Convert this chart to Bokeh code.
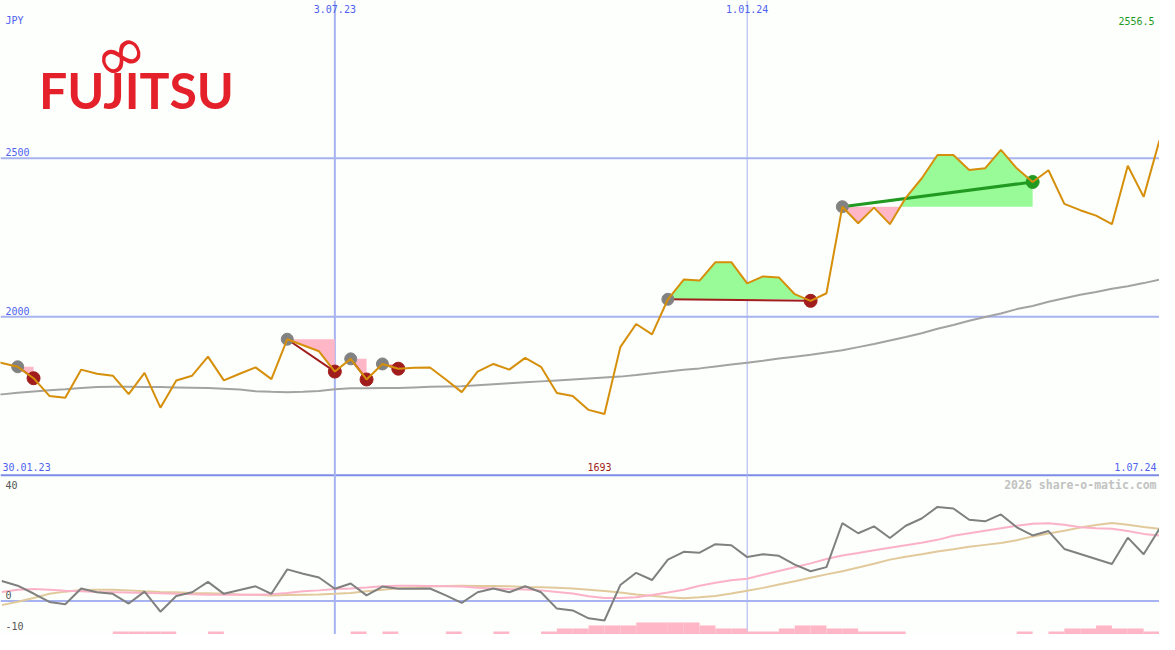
import numpy as np
import pandas as pd
from bokeh.plotting import figure
from bokeh.models import Range1d, Span
from bokeh.core.properties import value
from bokeh.embed import file_html
from bokeh.resources import INLINE

# ---------------- data (weekly) ----------------
first_week = "2023-01-30"
price = [1867, 1854, 1842, 1806, 1750, 1744, 1833, 1820, 1814, 1756,
         1823, 1713, 1799, 1814, 1874, 1799, 1820, 1840, 1803, 1929,
         1910, 1891, 1827, 1867, 1802, 1851, 1836, 1839, 1840, 1802,
         1762, 1827, 1851, 1833, 1870, 1842, 1759, 1750, 1706, 1693,
         1904, 1977, 1944, 2055, 2117, 2114, 2172, 2172, 2105, 2127,
         2124, 2071, 2050, 2074, 2347, 2295, 2344, 2292, 2375, 2436,
         2510, 2510, 2463, 2468, 2526, 2468, 2425, 2462, 2356, 2336,
         2319, 2292, 2476, 2378, 2556.5]
moving_avg = [1752, 1755, 1760, 1764, 1768, 1771, 1775, 1778, 1779, 1779,
              1778, 1778, 1777, 1776, 1775, 1773, 1770, 1765, 1763, 1762,
              1763, 1766, 1771, 1774, 1774, 1775, 1775, 1777, 1779, 1780,
              1781, 1784, 1787, 1790, 1793, 1796, 1799, 1802, 1805, 1808,
              1811, 1816, 1822, 1827, 1833, 1837, 1843, 1849, 1855, 1861,
              1868, 1874, 1880, 1887, 1894, 1904, 1914, 1925, 1936, 1948,
              1962, 1974, 1987, 1999, 2010, 2024, 2034, 2047, 2058, 2069,
              2078, 2088, 2096, 2106, 2117]
# lower panel, from the second week on
osc = [6.4, 4.9, 2.4, -0.3, -1.0, 4.0, 2.8, 2.3, -0.8, 3.0,
       -3.4, 1.6, 2.8, 6.1, 2.3, 3.5, 4.7, 2.3, 10.1, 8.7,
       7.5, 3.9, 5.6, 1.8, 4.6, 3.9, 3.9, 4.0, 1.8, -0.6,
       2.8, 4.0, 2.8, 4.7, 2.8, -2.4, -3.0, -5.5, -6.2, 5.1,
       9.0, 6.7, 13.2, 15.7, 15.4, 18.1, 17.8, 14.0, 14.9, 14.4,
       11.6, 9.5, 10.8, 24.8, 21.6, 23.8, 20.1, 24.0, 26.3, 30.0,
       29.5, 25.9, 25.4, 27.6, 23.5, 20.9, 22.3, 16.6, 15.0, 13.4,
       11.8, 20.2, 14.9, 23.0]
osc_fast = [2.9, 3.6, 3.8, 3.6, 3.3, 3.1, 2.9, 2.8, 2.7, 2.6,
            2.5, 2.3, 2.2, 2.0, 2.0, 2.0, 2.0, 2.2, 2.6, 3.1,
            3.4, 3.8, 4.0, 4.3, 4.7, 4.9, 4.9, 4.8, 4.7, 4.6,
            4.2, 4.0, 3.8, 3.7, 3.4, 2.9, 2.4, 1.5, 1.0, 1.0,
            1.2, 1.9, 2.7, 3.6, 4.9, 5.8, 6.6, 7.1, 8.4, 9.6,
            10.8, 12.0, 13.4, 14.5, 15.3, 16.2, 17.0, 17.8, 18.6, 19.5,
            20.8, 21.6, 22.4, 23.2, 24.0, 24.6, 24.8, 24.3, 23.5, 23.2,
            23.0, 22.3, 21.4, 20.9]
osc_slow = [-1.3, -0.2, 1.0, 2.3, 3.0, 3.5, 3.6, 3.6, 3.4, 3.1,
            2.9, 2.8, 2.6, 2.5, 2.3, 2.1, 2.0, 1.8, 1.9, 2.0,
            2.1, 2.3, 2.6, 3.1, 3.6, 4.1, 4.3, 4.6, 4.8, 4.9,
            4.8, 4.8, 4.7, 4.5, 4.4, 4.2, 4.0, 3.6, 3.2, 2.7,
            2.1, 1.7, 1.2, 0.9, 1.2, 1.6, 2.4, 3.3, 4.2, 5.3,
            6.3, 7.4, 8.5, 9.5, 10.7, 11.9, 13.2, 14.1, 14.9, 15.8,
            16.5, 17.3, 17.9, 18.5, 19.4, 20.6, 21.5, 22.4, 23.4, 24.2,
            24.9, 24.3, 23.6, 23.0]
bar_level = [0, 0, 0, 0, 0, 0, 0, 1, 1, 1,
             1, 0, 0, 1, 0, 0, 0, 0, 0, 0,
             0, 0, 1, 0, 1, 0, 0, 0, 1, 0,
             0, 1, 0, 0, 1, 2, 2, 3, 3, 3,
             4, 4, 4, 4, 3, 2, 2, 1, 1, 2,
             3, 3, 2, 2, 1, 1, 1, 0, 0, 0,
             0, 0, 0, 0, 1, 0, 1, 2, 2, 3,
             2, 2, 1]
# signal start / end week indices into price
sig_start = [2, 19, 23, 25, 43, 54]
sig_end = [3, 22, 24, 26, 52, 66]
grid_prices = [2500, 2000]
grid_dates = ["2023-07-03", "2024-01-01"]
osc_ticks = [40, 0, -10]
view_start = "2023-02-05 10:00"
view_end = "2024-07-01"
watermark = "2026 share-o-matic.com"
currency = "JPY"
logo_text = "FUJITSU"

# ---------------- styles ----------------
W, H = 1159, 634
REF_W, REF_H = 1175, 650
BG = "#fcfffb"
GRID = "#a7b3f0"
SEP = "#7d8ce8"
LBL = "#5061f0"
DARKRED = "#a11d1d"
GREEN_DOT = "#229a22"
PINK = "#ffb6c6"
LGREEN = "#98fb98"
ORANGE = "#d68f0a"
MONO = value("DejaVu Sans Mono")

def ms(s):
    return pd.Timestamp(s).value / 1e6

X0, X1 = ms(view_start), ms(view_end)
Y0, Y1 = 997.5, 2997.5
O0, O1 = -10.66, 191.36

def rx(px):
    return X0 + px / REF_W * (X1 - X0)

def ry(py):
    return Y1 - py / REF_H * (Y1 - Y0)

weeks = pd.date_range(first_week, periods=len(price), freq="7D")
xs = weeks.values.astype("datetime64[ms]").astype(np.int64).astype(float)
price_a = np.array(price, dtype=float)
xo = xs[1:]

def fmt(d):
    d = pd.Timestamp(d)
    return f"{d.day}.{d.month:02d}.{d.year % 100:02d}"

p = figure(width=W, height=H, x_range=Range1d(X0, X1), y_range=Range1d(Y0, Y1),
           output_backend="svg", toolbar_location=None,
           x_axis_location=None, y_axis_location=None, min_border=0,
           background_fill_color=BG, border_fill_color=BG, outline_line_color=None)
p.extra_y_ranges = {"osc": Range1d(O0, O1)}
p.xgrid.visible = False
p.ygrid.visible = False

# grid lines
for gp in grid_prices:
    p.add_layout(Span(location=gp, dimension="width", line_color=GRID, line_width=2, level="underlay"))
p.add_layout(Span(location=1500, dimension="width", line_color=SEP, line_width=2, level="underlay"))
p.add_layout(Span(location=0, dimension="width", line_color=GRID, line_width=2,
                  y_range_name="osc", level="underlay"))
for gd, lw in zip(grid_dates, [2, 1]):
    p.add_layout(Span(location=ms(gd), dimension="height", line_color=GRID, line_width=lw, level="underlay"))

# lower panel bars
lv = np.array(bar_level, dtype=float)
unit = 0.96
p.quad(left=xo[:-1], right=xo[1:], bottom=O0 - 1, top=O0 + lv * unit,
       fill_color=PINK, line_color=None, y_range_name="osc")

# lower panel lines
p.line(xo, osc_slow, line_color="#e2c99c", line_width=2, y_range_name="osc")
p.line(xo, osc_fast, line_color="#fbb2c8", line_width=2, y_range_name="osc")
p.line(xo, osc, line_color="#808080", line_width=2, y_range_name="osc")

# moving average
p.line(xs, moving_avg, line_color="#a3a3a3", line_width=2)

# signal fills
for s, e in zip(sig_start, sig_end):
    level = price_a[s]
    sx = list(xs[s:e + 1]); sy = list(price_a[s:e + 1])
    fx, fy = [sx[0]], [sy[0]]
    for a in range(len(sx) - 1):
        ya, yb = sy[a], sy[a + 1]
        if (ya - level) * (yb - level) < 0:
            t = (level - ya) / (yb - ya)
            fx.append(sx[a] + t * (sx[a + 1] - sx[a])); fy.append(level)
        fx.append(sx[a + 1]); fy.append(yb)
    fy = np.array(fy)
    lvl = np.full(len(fx), level)
    p.varea(x=fx, y1=lvl, y2=np.maximum(fy, level), fill_color=LGREEN)
    p.varea(x=fx, y1=lvl, y2=np.minimum(fy, level), fill_color=PINK)

# signal lines and dots
for s, e in zip(sig_start, sig_end):
    col = GREEN_DOT if price_a[e] > price_a[s] else DARKRED
    p.line([xs[s], xs[e]], [price_a[s], price_a[e]], line_color=col,
           line_width=3 if col == GREEN_DOT else 2)
p.scatter(xs[sig_start], price_a[sig_start], size=12, color="#828282")
end_cols = [GREEN_DOT if price_a[e] > price_a[s] else DARKRED for s, e in zip(sig_start, sig_end)]
p.scatter(xs[sig_end], price_a[sig_end], size=13, color=end_cols)

# price line
p.line(xs, price_a, line_color=ORANGE, line_width=2)

# ---------------- labels (anchored at text centres) ----------------
def lab(x, y, t, color=LBL, align="left", xo_=0, yo_=0, size="10px", style="normal", rng="default"):
    kw = dict(y_range_name=rng) if rng != "default" else {}
    p.text(x=[x], y=[y], text=[t], text_color=color, text_align=align, text_baseline="middle",
           x_offset=xo_, y_offset=yo_, text_font=MONO, text_font_size=size,
           text_font_style=style, **kw)

lab(X0, ry(21), currency, xo_=5)
for gd in grid_dates:
    lab(ms(gd), ry(9), fmt(gd), align="center")
lab(X1, ry(21.5), f"{price[-1]}", color="#1f9a1f", align="right", xo_=-5)
for gp in grid_prices:
    lab(X0, gp, str(gp), xo_=5, yo_=-6)
lab(X0, 1500, fmt(weeks[0]), xo_=2, yo_=-8)
imin = int(np.argmin(price_a))
lab(xs[imin], 1500, f"{int(price_a[imin])}", color=DARKRED, align="center", xo_=-5, yo_=-8)
lab(X1, 1500, fmt(weeks[-1]), align="right", xo_=-3, yo_=-8)
lab(X1, osc_ticks[0], watermark, color="#c2c2c2", align="right", xo_=-3, yo_=9,
    size="11.5px", style="bold", rng="osc")
lab(X0, osc_ticks[0], str(osc_ticks[0]), color="#555555", xo_=5, yo_=9, rng="osc")
lab(X0, osc_ticks[1], str(osc_ticks[1]), color="#555555", xo_=5, yo_=-6, rng="osc")
lab(X0, osc_ticks[2], str(osc_ticks[2]), color="#555555", xo_=5, yo_=-6, rng="osc")

# logo
LOGO_RED = "#e4212b"
p.text(x=[rx(39)], y=[ry(92)], text=[logo_text], text_color=LOGO_RED,
       text_font=value("Lato"), text_font_style="bold", text_font_size="50px",
       text_baseline="middle", text_align="left")
p.text(x=[rx(121)], y=[ry(55)], text=["\u221e"], text_color=LOGO_RED, angle=0.5,
       text_font=value("DejaVu Sans"), text_font_size="64px",
       text_baseline="middle", text_align="center")

open("out.html", "w").write(file_html(p, INLINE, title="Fujitsu"))
